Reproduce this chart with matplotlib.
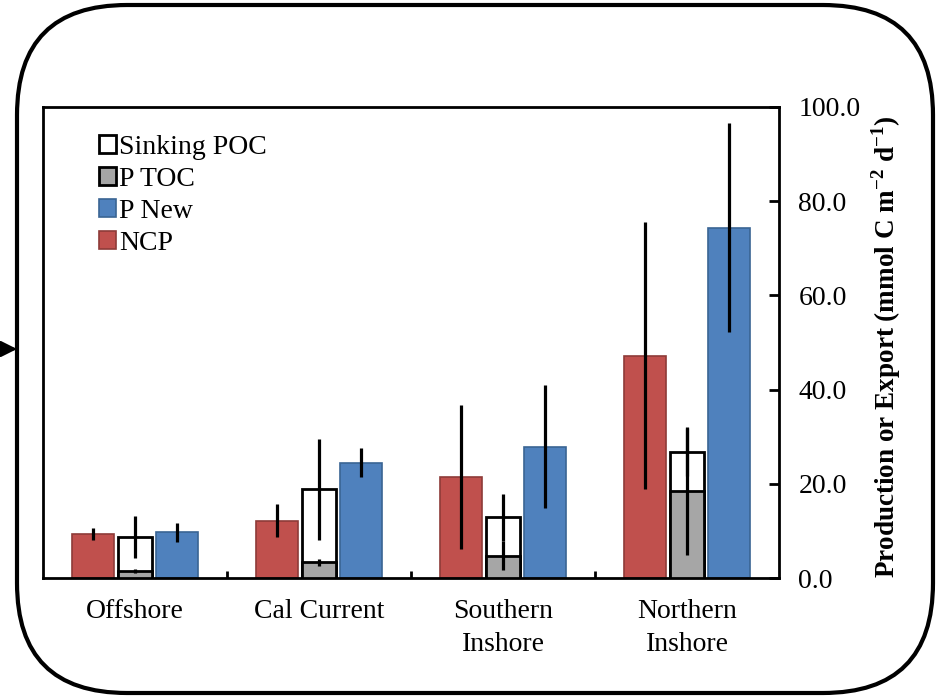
import numpy as np
import matplotlib
matplotlib.use("Agg")
import matplotlib.pyplot as plt
from matplotlib.patches import Patch, FancyBboxPatch

plt.rcParams['font.family'] = ['Liberation Serif', 'DejaVu Serif']
plt.rcParams['mathtext.fontset'] = 'custom'
plt.rcParams['mathtext.rm'] = 'Liberation Serif'
plt.rcParams['mathtext.bf'] = 'Liberation Serif:bold'

regions = ['Offshore', 'Cal Current', 'Southern\nInshore', 'Northern\nInshore']
ncp = [9.3, 12.2, 21.4, 47.2]
ncp_err = [1.3, 3.5, 15.3, 28.3]
sinking_poc = [8.7, 18.8, 12.9, 26.7]
sinking_poc_err = [4.5, 10.8, 5.0, 5.1]
p_toc = [1.5, 3.3, 4.7, 18.5]
p_toc_err = [0.5, 0.8, 3.1, 13.6]
p_new = [9.7, 24.5, 27.9, 74.4]
p_new_err = [2.0, 3.0, 13.0, 22.2]

red = '#C0504D'
blue = '#4F81BD'
gray = '#A6A6A6'

fig = plt.figure(figsize=(9.38, 6.98), dpi=100)

# rounded frame + arrow, drawn in pixel units
bg = fig.add_axes([0, 0, 1, 1])
bg.set_xlim(0, 938)
bg.set_ylim(698, 0)
bg.axis('off')
bg.add_patch(FancyBboxPatch((17, 5), 916, 688, boxstyle='round,pad=0,rounding_size=110',
                            facecolor='none', edgecolor='black', lw=3, clip_on=False))
bg.annotate('', xy=(17, 349), xytext=(0, 349),
            arrowprops=dict(arrowstyle='-|>', color='black', lw=2, mutation_scale=24,
                            shrinkA=0, shrinkB=0))

ax = fig.add_axes([43 / 938, 120 / 698, 736 / 938, 471 / 698])
x = np.arange(len(regions))
off = 0.23
errkw = dict(ecolor='black', elinewidth=2.3, capsize=0)

ax.bar(x - off, ncp, 0.23, color=red, edgecolor='#8E3B38', lw=1.2,
       yerr=ncp_err, error_kw=errkw, zorder=2)
ax.bar(x, sinking_poc, 0.185, color='white', edgecolor='black', lw=2,
       yerr=sinking_poc_err, error_kw=errkw, zorder=2)
ax.bar(x, p_toc, 0.185, color=gray, edgecolor='black', lw=2,
       yerr=p_toc_err, error_kw=errkw, zorder=3)
ax.bar(x + off, p_new, 0.23, color=blue, edgecolor='#3A6594', lw=1.2,
       yerr=p_new_err, error_kw=errkw, zorder=2)

ax.set_xlim(-0.5, 3.5)
ax.set_ylim(0, 100)
ax.set_xticks(x)
ax.set_xticklabels(regions, fontsize=20, linespacing=1.45)
ax.set_xticks(x[:-1] + 0.5, minor=True)
ax.tick_params(axis='x', which='major', length=0, pad=15)
ax.tick_params(axis='x', which='minor', direction='in', length=5, width=2)

ax.yaxis.tick_right()
ax.yaxis.set_label_position('right')
ax.set_yticks(np.arange(0, 101, 20))
ax.set_yticklabels([f'{v:.1f}' for v in np.arange(0, 101, 20)], fontsize=20)
ax.tick_params(axis='y', direction='in', length=7, width=2, pad=14)
for s in ax.spines.values():
    s.set_linewidth(2)

ax.set_ylabel(r'Production or Export (mmol C m$^{\mathbf{-2}}$ d$^{\mathbf{-1}}$)',
              fontsize=19.5, fontweight='bold')
ax.yaxis.set_label_coords(1.122, 0.49)

handles = [Patch(facecolor='white', edgecolor='black', lw=2, label='Sinking POC'),
           Patch(facecolor=gray, edgecolor='black', lw=2, label='P TOC'),
           Patch(facecolor=blue, edgecolor='#3A6594', lw=1.2, label='P New'),
           Patch(facecolor=red, edgecolor='#8E3B38', lw=1.2, label='NCP')]
ax.legend(handles=handles, loc='upper left', bbox_to_anchor=(0.076, 0.94),
          frameon=False, fontsize=20, handlelength=0.62, handleheight=0.62,
          handletextpad=0.12, labelspacing=0.25, borderpad=0, borderaxespad=0)

fig.savefig('out.png', dpi=100)
